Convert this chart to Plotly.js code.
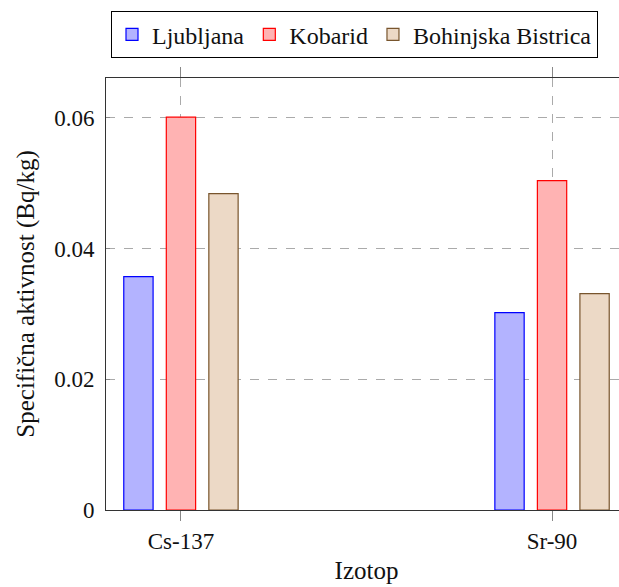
<!DOCTYPE html>
<html><head><meta charset="utf-8">
<script src="https://cdn.plot.ly/plotly-3.0.1.min.js"></script>
<style>html,body{margin:0;padding:0;overflow:hidden;background:#fff}</style>
</head><body><div id="chart"></div>
<script>
const categories = ["Cs-137", "Sr-90"];
const ljubljana = [0.0357, 0.0302];
const kobarid = [0.0601, 0.0504];
const bohinjska = [0.0484, 0.0331];
const seriesNames = ["Ljubljana", "Kobarid", "Bohinjska Bistrica"];
const yTicks = [0, 0.02, 0.04, 0.06];
const yTickLabels = ["0", "0.02", "0.04", "0.06"];

const F = "'Liberation Serif', 'DejaVu Serif', serif";
const W = 0.079, S = 0.1146;
function tr(name, y, fill, line, off) {
  return {type: "bar", name: name, x: categories, y: y, width: W, offset: off - W/2,
    marker: {color: fill, line: {color: line, width: 1.2}}};
}
const data = [
  tr(seriesNames[0], ljubljana, "rgb(179,179,255)", "rgb(0,0,255)", -S),
  tr(seriesNames[1], kobarid, "rgb(255,179,179)", "rgb(255,0,0)", 0),
  tr(seriesNames[2], bohinjska, "rgb(236,217,198)", "rgb(120,85,45)", S)
];
const layout = {
  width: 640, height: 587,
  margin: {l: 106, r: 13, t: 77, b: 77},
  barmode: "overlay",
  paper_bgcolor: "#fff", plot_bgcolor: "#fff",
  font: {family: F, size: 23, color: "#111"},
  showlegend: true,
  legend: {orientation: "h", x: 0.0096, xanchor: "left", y: 1.152, yanchor: "top",
    bordercolor: "#000", borderwidth: 1, font: {family: F, size: 24, color: "#111"},
    itemwidth: 30, traceorder: "normal"},
  xaxis: {type: "category", range: [-0.202, 1.202], showline: true, linecolor: "#333", linewidth: 1,
    mirror: "allticks", ticks: "outside", ticklen: 10, tickcolor: "#888", tickwidth: 1,
    showgrid: true, gridcolor: "#aaa", griddash: "dash", gridwidth: 1,
    tickfont: {family: F, size: 23},
    title: {text: "Izotop", font: {family: F, size: 25}, standoff: 8}},
  yaxis: {range: [0, 0.0661], tickvals: yTicks, ticktext: yTickLabels,
    showline: true, linecolor: "#333", linewidth: 1, mirror: true,
    ticks: "inside", ticklen: 4, tickcolor: "#888",
    showgrid: true, gridcolor: "#aaa", griddash: "dash", gridwidth: 1, zeroline: false,
    ticklabelstandoff: 6, tickfont: {family: F, size: 23},
    title: {text: "Specifična aktivnost (Bq/kg)", font: {family: F, size: 25}, standoff: 12}}
};
Plotly.newPlot("chart", data, layout, {displayModeBar: false, staticPlot: true});
</script></body></html>
